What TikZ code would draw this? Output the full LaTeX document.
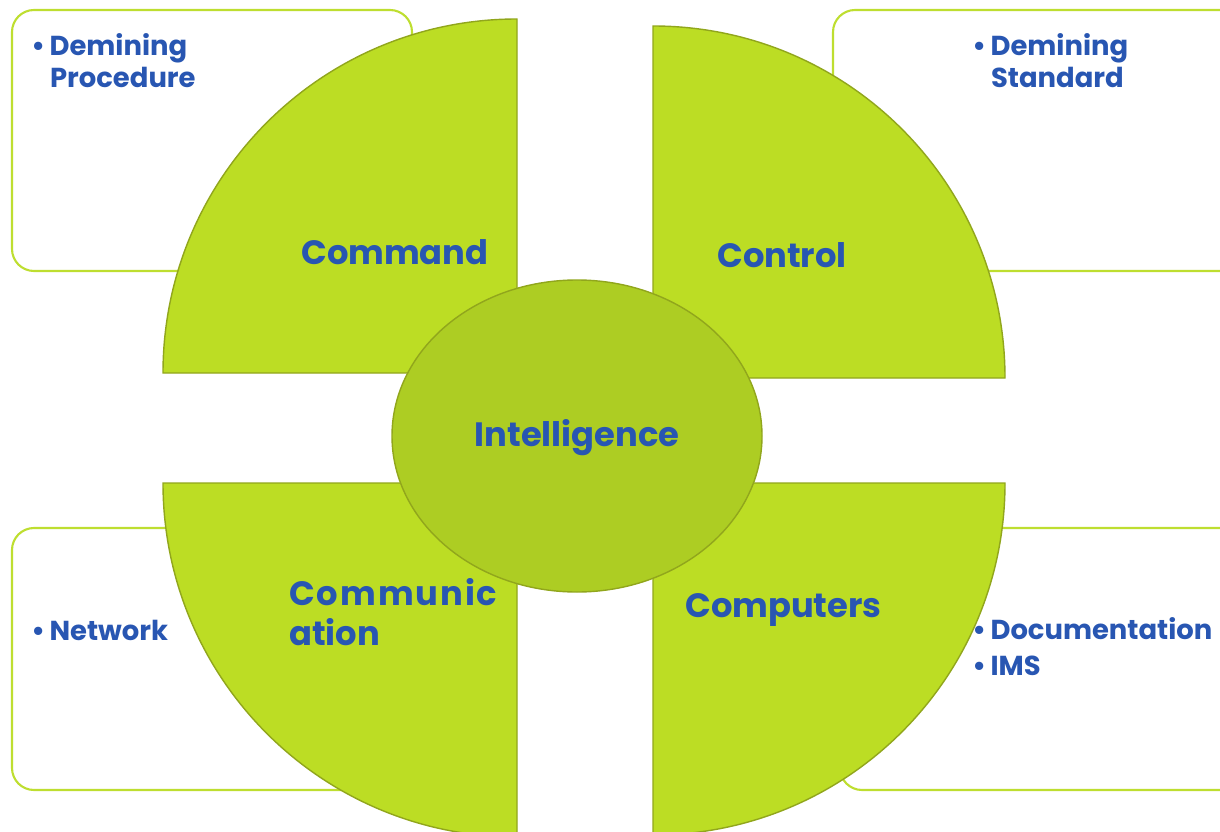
\documentclass[tikz,border=0pt]{standalone}
\usepackage{fontspec}
\setmainfont{Poppins}
\usepackage{tikz}
\usepackage{xcolor}
\usetikzlibrary{positioning,calc}
\definecolor{quadgreen}{RGB}{188,221,36}
\definecolor{quadedge}{RGB}{145,166,28}
\definecolor{ovalgreen}{RGB}{173,205,35}
\definecolor{boxgreen}{RGB}{190,222,48}
\definecolor{labelblue}{RGB}{40,86,178}

\begin{document}
\begin{tikzpicture}[x=0.025cm, y=0.025cm,
    quad/.style={fill=quadgreen, draw=quadedge, line width=1pt},
    infobox/.style={draw=boxgreen, line width=1.5pt, rounded corners=0.55cm, fill=white},
    bigtext/.style={text=labelblue, font=\fontsize{24}{28}\selectfont\bfseries, inner sep=0pt},
    listtext/.style={text=labelblue, font=\fontsize{19.5}{23}\selectfont\bfseries, inner sep=0pt, align=left}]
    \useasboundingbox (0,0) rectangle (1220,831);

    % Side boxes
    \draw[infobox] (12,560) rectangle (412,821);
    \draw[infobox] (833,560) rectangle (1250,821);
    \draw[infobox] (12,41) rectangle (400,303);
    \draw[infobox] (840,41) rectangle (1250,303);

    % Quadrants
    \draw[quad] (517,458) -- (517,812) arc[start angle=90, end angle=180, radius=354] -- cycle;
    \draw[quad] (653,453) -- (1005,453) arc[start angle=0, end angle=90, radius=352] -- cycle;
    \draw[quad] (517,348) -- (163,348) arc[start angle=180, end angle=270, radius=354] -- cycle;
    \draw[quad] (653,348) -- (653,-4) arc[start angle=270, end angle=360, radius=352] -- cycle;

    % Centre
    \draw[fill=ovalgreen, draw=quadedge, line width=1pt] (577,395) ellipse[x radius=185, y radius=156];

    % Labels
    \node[bigtext, anchor=west] (command) at (301,579) {Command};
    \node[bigtext, anchor=west] (control) at (717,576) {Control};
    \node[bigtext] (intel) at (577,393) {Intelligence};
    \node[bigtext, anchor=west, align=left] (comm) at (289,219) {\makebox[5.2cm][s]{C\hfill o\hfill m\hfill m\hfill u\hfill n\hfill i\hfill c}\\ation};
    \node[bigtext, anchor=west] (comp) at (685,221) {Computers};

    % Bullet lists
    \node[listtext, anchor=north west] (procedure) at (31,798) {\textbullet\,Demining\\\hspace*{0.47cm}Procedure};
    \node[listtext, anchor=north west] (standard) at (972,798) {\textbullet\,Demining\\\hspace*{0.47cm}Standard};
    \node[listtext, anchor=west] (network) at (31,201) {\textbullet\,Network};
    \node[listtext, anchor=north west, font=\fontsize{19.5}{26}\selectfont\bfseries] (docs) at (972,214) {\textbullet\,Documentation\\\textbullet\,IMS};
\end{tikzpicture}
\end{document}
